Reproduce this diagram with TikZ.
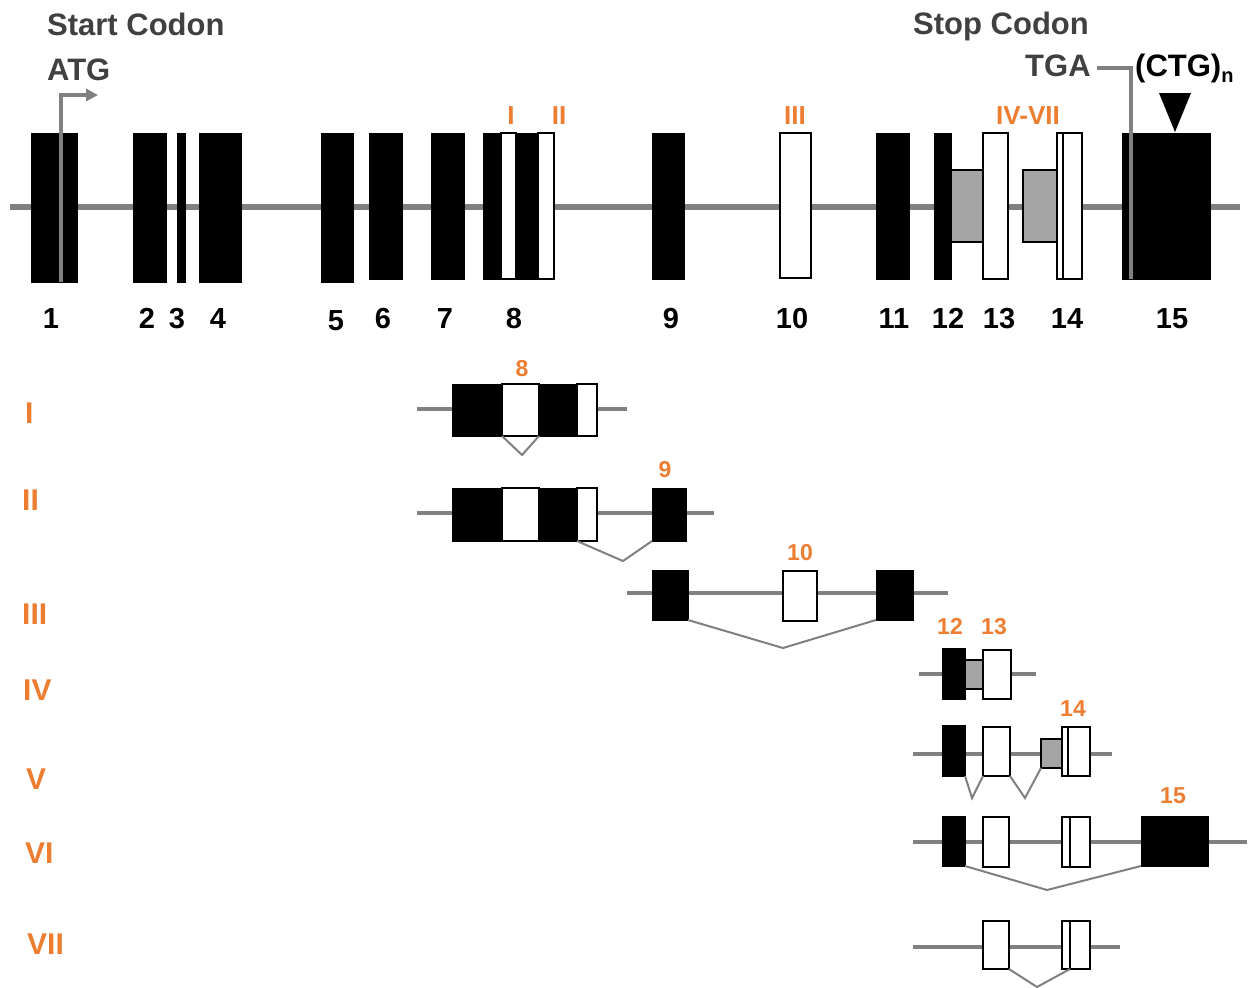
\documentclass[tikz,border=0pt]{standalone}
\usepackage{fontspec}
\setmainfont{Liberation Sans}
\usetikzlibrary{arrows.meta,fit}
\definecolor{orng}{HTML}{ED7D31}
\definecolor{dgray}{HTML}{404040}
\definecolor{lgray}{HTML}{808080}
\definecolor{boxgray}{HTML}{A5A5A5}
\begin{document}
\begin{tikzpicture}[x=1pt,y=-1pt,
  exb/.style={fill=black,draw=black,line width=0.8pt,inner sep=0pt,outer sep=0pt},
  exw/.style={fill=white,draw=black,line width=1.8pt,inner sep=0pt,outer sep=0pt},
  exg/.style={fill=boxgray,draw=black,line width=1.8pt,inner sep=0pt,outer sep=0pt},
  gene/.style={draw=lgray,line width=6pt},
  subgene/.style={draw=lgray,line width=4pt},
  splice/.style={draw=lgray,line width=2pt},
  marker/.style={draw=lgray,line width=3.5pt},
  title/.style={font=\fontsize{31}{36}\selectfont\bfseries,text=dgray,anchor=base west,inner sep=0pt},
  num/.style={font=\fontsize{29}{34}\selectfont\bfseries,text=black,anchor=base,inner sep=0pt},
  iso/.style={font=\fontsize{26}{30}\selectfont\bfseries,text=orng,anchor=base,inner sep=0pt},
  rowlab/.style={font=\fontsize{30}{36}\selectfont\bfseries,text=orng,anchor=base west,inner sep=0pt},
  sublab/.style={font=\fontsize{23}{28}\selectfont\bfseries,text=orng,anchor=base,inner sep=0pt}
]
\useasboundingbox[fill=white] (0,0) rectangle (1248,988);

% ---------- gene backbones ----------
\coordinate (g0) at (10,207);   \coordinate (g1) at (1240,207);
\coordinate (l1a) at (417,409); \coordinate (l1b) at (627,409);
\coordinate (l2a) at (417,513); \coordinate (l2b) at (714,513);
\coordinate (l3a) at (627,593); \coordinate (l3b) at (948,593);
\coordinate (l4a) at (919,674); \coordinate (l4b) at (1036,674);
\coordinate (l5a) at (913,754); \coordinate (l5b) at (1112,754);
\coordinate (l6a) at (913,842); \coordinate (l6b) at (1247,842);
\coordinate (l7a) at (913,947); \coordinate (l7b) at (1120,947);
\draw[gene] (g0) -- (g1);
\draw[subgene] (l1a) -- (l1b);
\draw[subgene] (l2a) -- (l2b);
\draw[subgene] (l3a) -- (l3b);
\draw[subgene] (l4a) -- (l4b);
\draw[subgene] (l5a) -- (l5b);
\draw[subgene] (l6a) -- (l6b);
\draw[subgene] (l7a) -- (l7b);

% ---------- top row exons ----------
\node[exb, fit={(31,133) (77,282)}] (e1) {};
\node[exb, fit={(133,133) (166,282)}] (e2) {};
\node[exb, fit={(177,133) (185,282)}] (e3) {};
\node[exb, fit={(199,133) (241,282)}] (e4) {};
\node[exb, fit={(321,133) (353,282)}] (e5) {};
\node[exb, fit={(369,133) (402,279)}] (e6) {};
\node[exb, fit={(431,133) (464,279)}] (e7) {};
\node[exb, fit={(483,133) (538,279)}] (e8) {};
\node[exw, line width=1.3pt, fit={(501,133) (516,279)}] (e8w1) {};
\node[exw, line width=1.3pt, fit={(538,133) (554,279)}] (e8w2) {};
\node[exb, fit={(652,133) (684,279)}] (e9) {};
\node[exw, fit={(780,133) (811,278)}] (e10) {};
\node[exb, fit={(876,133) (909,279)}] (e11) {};
\node[exb, fit={(934,133) (951,279)}] (e12) {};
\node[exg, fit={(951,170) (983,242)}] (e12g) {};
\node[exw, fit={(983,133) (1008,279)}] (e13) {};
\node[exg, fit={(1023,170) (1057,242)}] (e14g) {};
\node[exw, fit={(1057,133) (1063,279)}] (e14a) {};
\node[exw, fit={(1063,133) (1082,279)}] (e14b) {};
\node[exb, fit={(1122,133) (1210,279)}] (e15) {};

% start codon marker
\coordinate (atgbase) at (61,282);
\coordinate (atgtip) at (98,95);
\draw[marker, -{Triangle[length=12pt,width=12pt]}] (atgbase) |- (atgtip);
% stop codon marker
\coordinate (tgastart) at (1097,68);
\coordinate (tgabase) at (1131,279);
\draw[marker] (tgastart) -| (tgabase);
% repeat triangle
\fill[black] (1159,93) -- (1191,93) -- (1175,132) -- cycle;

% ---------- row I ----------
\node[exb, fit={(452,384) (577,436)}] (r1a) {};
\node[exw, line width=1.3pt, fit={(502,384) (539,436)}] (r1w1) {};
\node[exw, line width=1.3pt, fit={(577,384) (597,436)}] (r1w2) {};
\coordinate (s1) at (522,455);
\draw[splice] (r1w1.south west) -- (s1) -- (r1w1.south east);

% ---------- row II ----------
\node[exb, fit={(452,488) (577,541)}] (r2a) {};
\node[exw, line width=1.3pt, fit={(502,488) (539,541)}] (r2w1) {};
\node[exw, line width=1.3pt, fit={(577,488) (597,541)}] (r2w2) {};
\node[exb, fit={(652,488) (686,541)}] (r2e9) {};
\coordinate (s2) at (623,561);
\draw[splice] (r2w2.south west) -- (s2) -- (r2e9.south west);

% ---------- row III ----------
\node[exb, fit={(652,570) (688,620)}] (r3a) {};
\node[exw, fit={(783,571) (817,621)}] (r3b) {};
\node[exb, fit={(876,570) (913,620)}] (r3c) {};
\coordinate (s3) at (783,648);
\draw[splice] (r3a.south east) -- (s3) -- (r3c.south west);

% ---------- row IV ----------
\node[exb, fit={(942,648) (965,699)}] (r4a) {};
\node[exg, fit={(965,660) (983,689)}] (r4g) {};
\node[exw, fit={(983,650) (1011,699)}] (r4b) {};

% ---------- row V ----------
\node[exb, fit={(942,725) (965,776)}] (r5a) {};
\node[exw, fit={(983,727) (1010,776)}] (r5b) {};
\node[exg, fit={(1041,739) (1062,768)}] (r5g) {};
\node[exw, fit={(1062,727) (1068,776)}] (r5c1) {};
\node[exw, fit={(1068,727) (1090,776)}] (r5c2) {};
\coordinate (s5a) at (972,798);
\coordinate (s5b) at (1025,798);
\draw[splice] (r5a.south east) -- (s5a) -- (r5b.south west);
\draw[splice] (r5b.south east) -- (s5b) -- (r5g.south west);

% ---------- row VI ----------
\node[exb, fit={(942,816) (965,866)}] (r6a) {};
\node[exw, fit={(983,817) (1009,867)}] (r6b) {};
\node[exw, fit={(1062,817) (1070,867)}] (r6c1) {};
\node[exw, fit={(1070,817) (1090,867)}] (r6c2) {};
\node[exb, fit={(1141,816) (1208,866)}] (r6d) {};
\coordinate (s6) at (1047,890);
\draw[splice] (r6a.south east) -- (s6) -- (r6d.south west);

% ---------- row VII ----------
\node[exw, fit={(983,921) (1009,969)}] (r7b) {};
\node[exw, fit={(1062,921) (1070,969)}] (r7c1) {};
\node[exw, fit={(1070,921) (1090,969)}] (r7c2) {};
\coordinate (s7) at (1037,987);
\draw[splice] (r7b.south east) -- (s7) -- (r7c2.south west);

% ---------- texts ----------
\node[title] (tstart) at (47,35) {Start Codon};
\node[title] (tatg) at (47,80) {ATG};
\node[title] (tstop) at (913,34) {Stop Codon};
\node[title] (ttga) at (1025,76) {TGA};
\node[title, text=black] (tctg) at (1135,76) {(CTG)\raisebox{-6pt}{\fontsize{20}{20}\selectfont n}};

\node[num] (n1) at (51,328) {1};
\node[num] (n2) at (147,328) {2};
\node[num] (n3) at (177,328) {3};
\node[num] (n4) at (218,328) {4};
\node[num] (n5) at (336,330) {5};
\node[num] (n6) at (383,328) {6};
\node[num] (n7) at (445,328) {7};
\node[num] (n8) at (514,328) {8};
\node[num] (n9) at (671,328) {9};
\node[num] (n10) at (792,328) {10};
\node[num] (n11) at (894,328) {11};
\node[num] (n12) at (948,328) {12};
\node[num] (n13) at (999,328) {13};
\node[num] (n14) at (1067,328) {14};
\node[num] (n15) at (1172,328) {15};

\node[iso] (iI) at (511,124) {I};
\node[iso] (iII) at (559,124) {II};
\node[iso] (iIII) at (795,124) {III};
\node[iso] (iIV) at (1028,124) {IV-VII};

\node[rowlab] (rI) at (25,423) {I};
\node[rowlab] (rII) at (22,510) {II};
\node[rowlab] (rIII) at (22,624) {III};
\node[rowlab] (rIV) at (23,700) {IV};
\node[rowlab] (rV) at (26,789) {V};
\node[rowlab] (rVI) at (25,863) {VI};
\node[rowlab] (rVII) at (27,954) {VII};

\node[sublab] (lab8) at (522,376) {8};
\node[sublab] (lab9) at (665,477) {9};
\node[sublab] (lab10) at (800,560) {10};
\node[sublab] (lab12) at (950,634) {12};
\node[sublab] (lab13) at (994,634) {13};
\node[sublab] (lab14) at (1073,716) {14};
\node[sublab] (lab15) at (1173,803) {15};
\end{tikzpicture}
\end{document}
